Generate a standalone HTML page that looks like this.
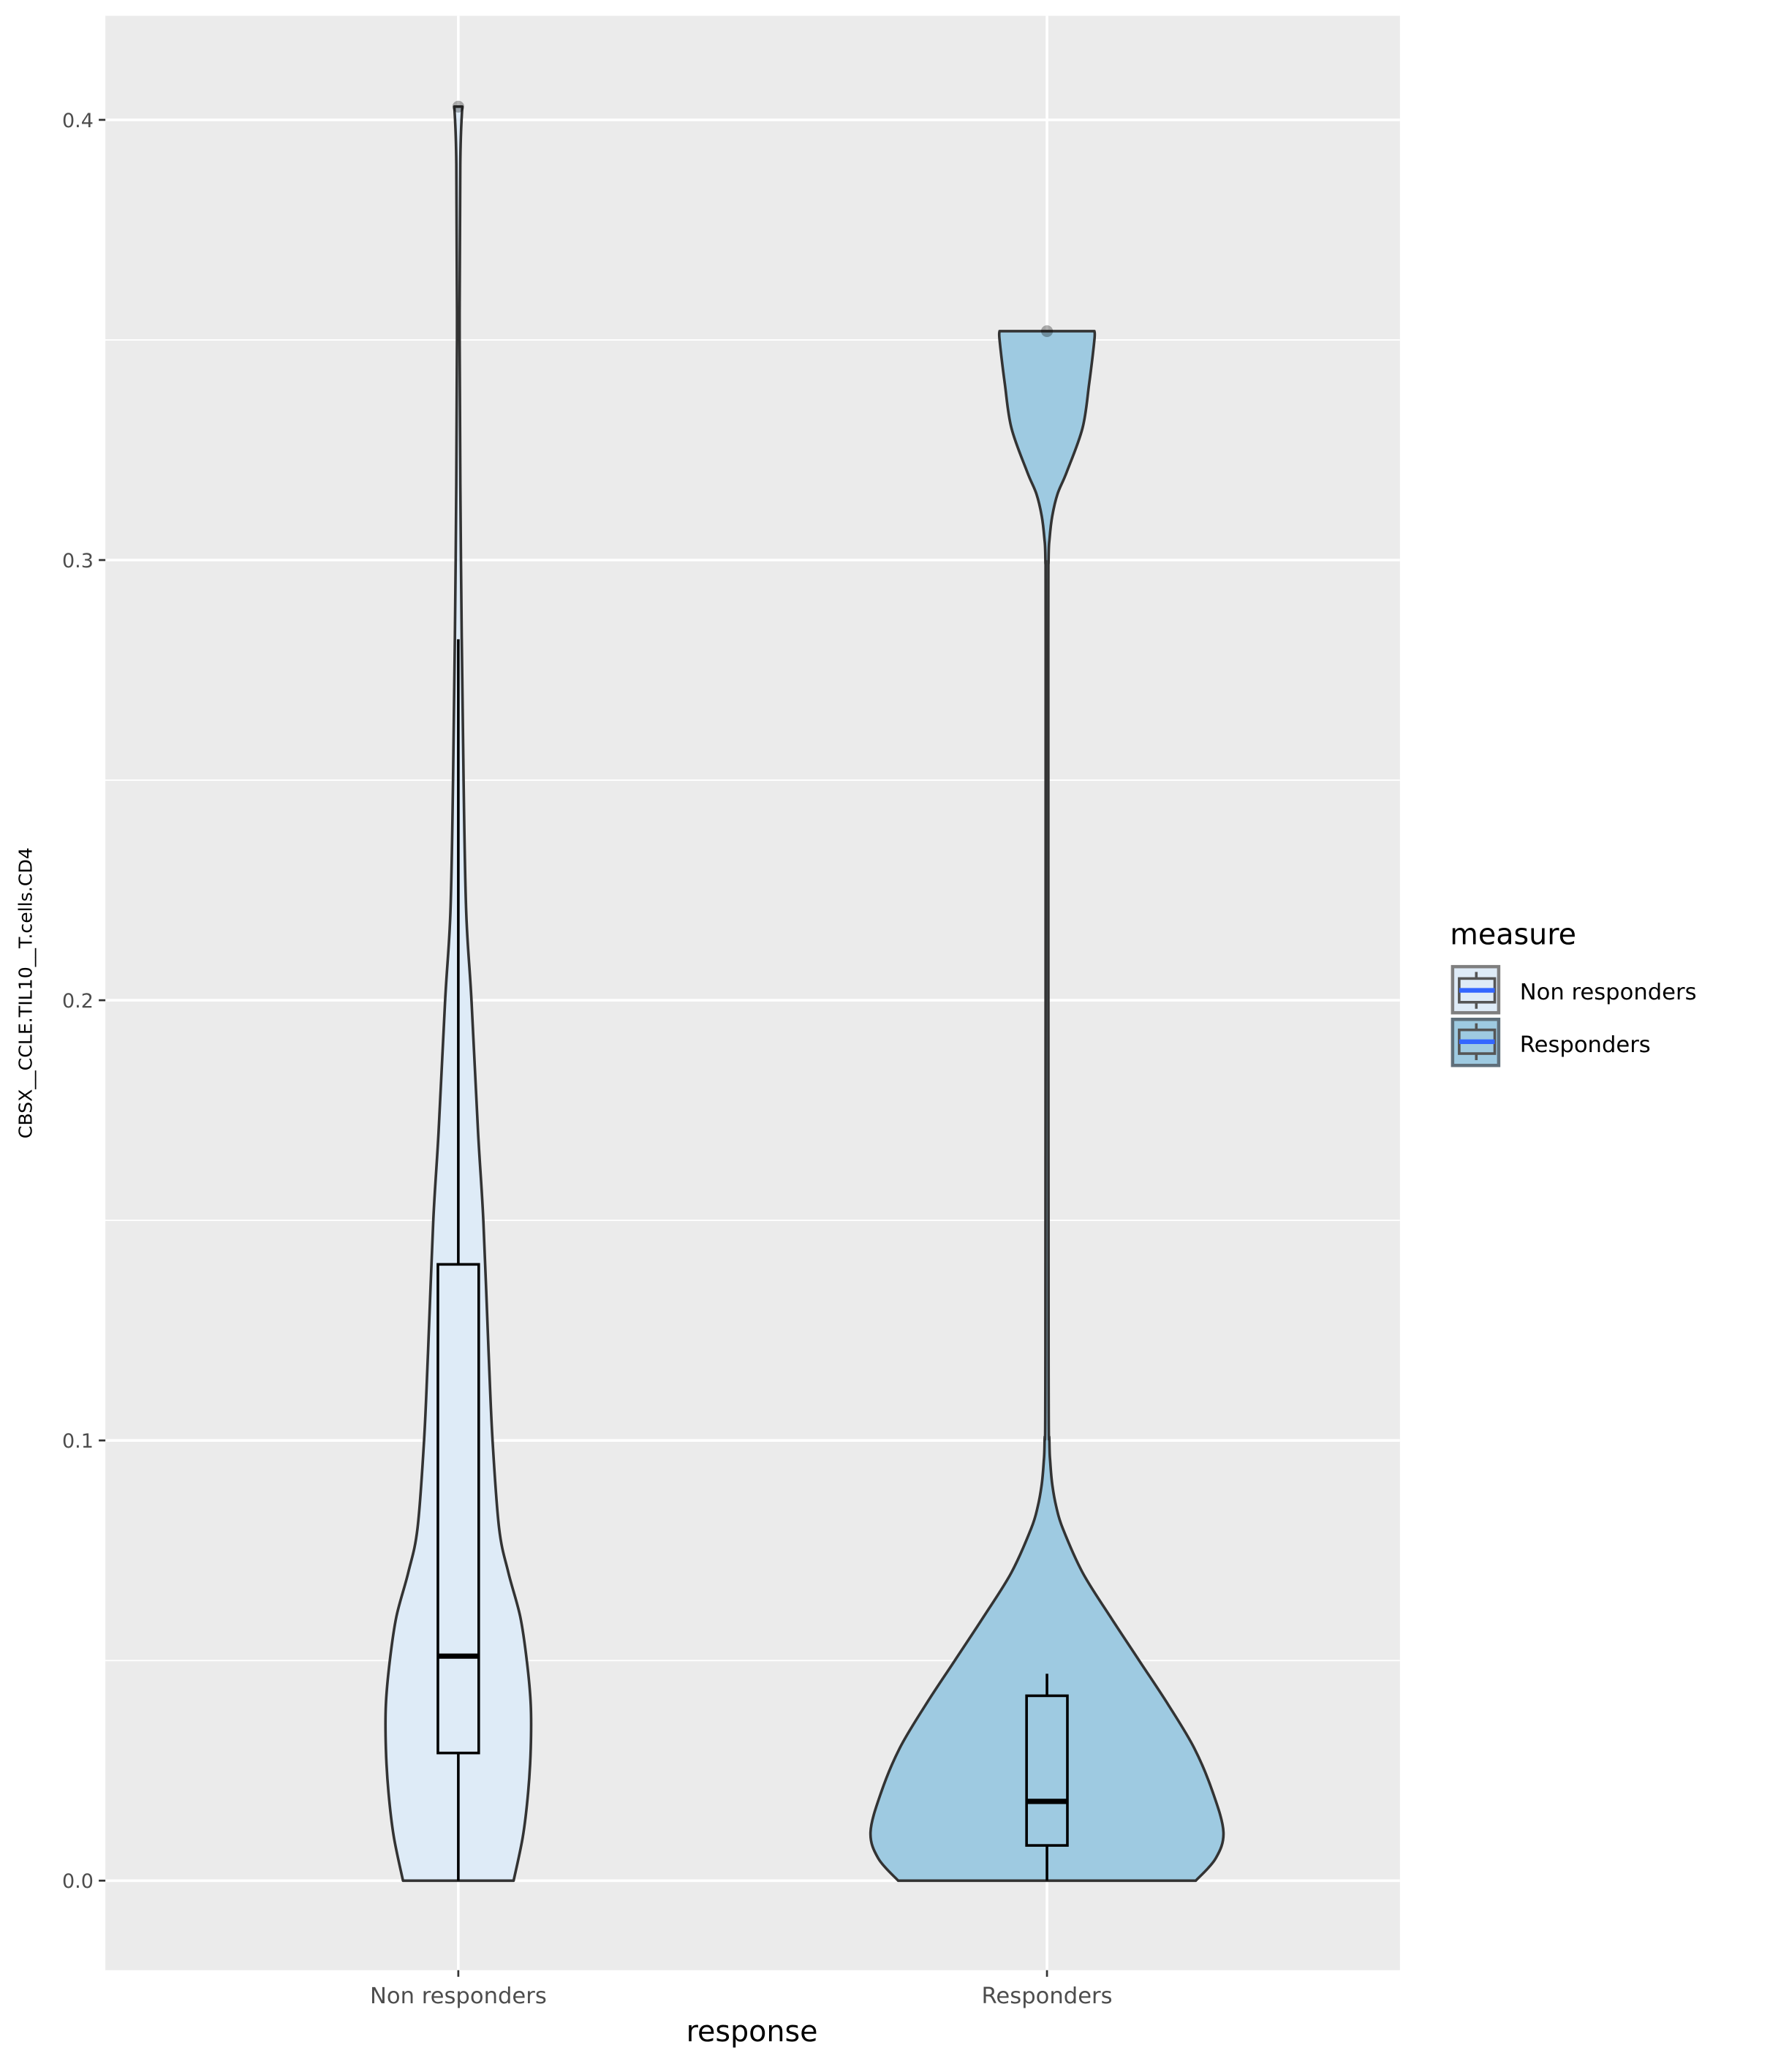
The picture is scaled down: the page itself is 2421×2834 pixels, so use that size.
<!DOCTYPE html>
<html><head><meta charset="utf-8"><style>html,body{margin:0;padding:0;background:#fff}svg{display:block}</style></head>
<body>
<svg id="chart" width="2421" height="2834" viewBox="0 0 1344 1573.3" xmlns="http://www.w3.org/2000/svg" font-family="'DejaVu Sans','Liberation Sans',sans-serif">
<rect x="80" y="12" width="983" height="1484" fill="#ebebeb"/>
<g id="grid"></g>
<g id="marks"></g>
<g id="axes"></g>
<text x="571" y="1550" font-size="22" text-anchor="middle" fill="#000">response</text>
<text transform="translate(24,754) rotate(-90)" font-size="14" text-anchor="middle" fill="#000">CBSX__CCLE.TIL10__T.cells.CD4</text>
<g>
<text x="1101" y="717" font-size="22" fill="#000">measure</text>
<g>
<rect x="1103" y="734" width="35" height="35" fill="#deebf7" stroke="#7f7f7f" stroke-width="2.5"/>
<line x1="1121" y1="738" x2="1121" y2="766" stroke="#555" stroke-width="2"/>
<rect x="1108" y="743" width="27" height="18" fill="#deebf7" stroke="#555" stroke-width="2"/>
<line x1="1108" y1="752" x2="1135" y2="752" stroke="#3366ff" stroke-width="3.5"/>
<text x="1154" y="759" font-size="17" fill="#000">Non responders</text>
</g>
<g>
<rect x="1103" y="774" width="35" height="35" fill="#9ecae1" stroke="#5f6f7a" stroke-width="2.5"/>
<line x1="1121" y1="777" x2="1121" y2="805" stroke="#555" stroke-width="2"/>
<rect x="1108" y="782" width="27" height="18" fill="#9ecae1" stroke="#555" stroke-width="2"/>
<line x1="1108" y1="791" x2="1135" y2="791" stroke="#3366ff" stroke-width="3.5"/>
<text x="1154" y="799" font-size="17" fill="#000">Responders</text>
</g>
</g>
</svg>
<script>
const categories = ["Non responders", "Responders"];
const fills = ["#deebf7", "#9ecae1"];
const yTicks = [0.0, 0.1, 0.2, 0.3, 0.4];
const yTickLabels = ["0.0", "0.1", "0.2", "0.3", "0.4"];
// violin density profiles: y values and relative half-widths
const nrY = [0, 0.01, 0.02, 0.03, 0.04, 0.05, 0.06, 0.07, 0.08, 0.1, 0.12, 0.15, 0.17, 0.2, 0.22, 0.25, 0.3, 0.35, 0.39, 0.403];
const nrW = [42, 49, 53, 55, 55, 52, 47, 38, 31, 26, 23, 19, 15, 10, 6, 4, 2, 1, 1.5, 3];
const rY = [0, 0.005, 0.011, 0.02, 0.03, 0.04, 0.05, 0.06, 0.07, 0.08, 0.085, 0.09, 0.095, 0.1, 0.12, 0.28, 0.3, 0.305, 0.31, 0.315, 0.32, 0.33, 0.34, 0.35, 0.352];
const rW = [113, 128, 134, 126, 112, 92, 70, 48, 27, 12, 7, 4, 2.5, 1.8, 1.2, 1, 1.2, 2, 4, 8, 15, 27, 32, 36, 36];
const boxQ1 = [0.029, 0.008];
const boxMed = [0.051, 0.018];
const boxQ3 = [0.140, 0.042];
const whiskLo = [0, 0];
const whiskHi = [0.282, 0.047];
const outliers = [0.403, 0.352];

const NS = "http://www.w3.org/2000/svg";
function yS(v){ return 1428 - v * 3342.5; }
function xS(i){ return 348 + i * 447; }
function mk(parent, tag, attrs){ const e = document.createElementNS(NS, tag); for (const k in attrs) e.setAttribute(k, attrs[k]); parent.appendChild(e); return e; }
// smooth side of violin; pts = [[w, y], ...], sign = -1 left / +1 right
function side(cx, pts, sign, start){
  let d = start ? 'M' + (cx + sign*pts[0][0]) + ',' + pts[0][1] : 'L' + (cx + sign*pts[0][0]) + ',' + pts[0][1];
  for (let i = 0; i < pts.length - 1; i++) {
    const p0 = pts[Math.max(0, i-1)], p1 = pts[i], p2 = pts[i+1], p3 = pts[Math.min(pts.length-1, i+2)];
    let c1w = p1[0] + (p2[0]-p0[0])/6, c2w = p2[0] - (p3[0]-p1[0])/6;
    const lo = Math.min(p1[0], p2[0]) * 0.6;
    c1w = Math.max(lo, c1w); c2w = Math.max(lo, c2w);
    const c1y = p1[1] + (p2[1]-p0[1])/6, c2y = p2[1] - (p3[1]-p1[1])/6;
    d += 'C' + (cx + sign*c1w) + ',' + c1y + ' ' + (cx + sign*c2w) + ',' + c2y + ' ' + (cx + sign*p2[0]) + ',' + p2[1];
  }
  return d;
}
const grid = document.getElementById('grid'), marks = document.getElementById('marks'), axes = document.getElementById('axes');

for (let i = 0; i < yTicks.length; i++) {
  const y = yS(yTicks[i]);
  const g = mk(grid, 'line', {x1:80, x2:1063, y1:y, y2:y, stroke:'#fff', 'stroke-width':2});
  
  
  if (i < yTicks.length - 1) {
    const ym = yS((yTicks[i] + yTicks[i+1]) / 2);
    const m = mk(grid, 'line', {x1:80, x2:1063, y1:ym, y2:ym, stroke:'#fff', 'stroke-width':1});
    
    
  }
  mk(axes, 'line', {x1:75, x2:80, y1:y, y2:y, stroke:'#333', 'stroke-width':1.5});
  const t = mk(axes, 'text', {x:71, y:y + 5.5, 'font-size':15, 'text-anchor':'end', fill:'#4d4d4d'});
  t.textContent = yTickLabels[i];
  
  
}
for (let i = 0; i < categories.length; i++) {
  const x = xS(i);
  const g = mk(grid, 'line', {x1:x, x2:x, y1:12, y2:1496, stroke:'#fff', 'stroke-width':2});
  
  
  mk(axes, 'line', {x1:x, x2:x, y1:1496, y2:1501, stroke:'#333', 'stroke-width':1.5});
  const t = mk(axes, 'text', {x:x, y:1521, 'font-size':17, 'text-anchor':'middle', fill:'#4d4d4d'});
  t.textContent = categories[i];
  
  
}
const profiles = [[nrY, nrW], [rY, rW]];
for (let i = 0; i < categories.length; i++) {
  const x = xS(i), ys = profiles[i][0], ws = profiles[i][1];
  const up = [];
  for (let k = 0; k < ys.length; k++) up.push([ws[k], yS(ys[k])]);
  const down = up.slice().reverse();
  const d = side(x, up, -1, true) + side(x, down, 1, false) + 'Z';
  const v = mk(marks, 'path', {d:d, fill:fills[i], stroke:'#333', 'stroke-width':2, 'stroke-linejoin':'round'});
  
  
  const wl = mk(marks, 'line', {x1:x, x2:x, y1:yS(whiskLo[i]), y2:yS(boxQ1[i]), stroke:'#000', 'stroke-width':2});
  
  
  const wh = mk(marks, 'line', {x1:x, x2:x, y1:yS(boxQ3[i]), y2:yS(whiskHi[i]), stroke:'#000', 'stroke-width':2});
  
  
  const b = mk(marks, 'rect', {x:x - 15.5, y:yS(boxQ3[i]), width:31, height:yS(boxQ1[i]) - yS(boxQ3[i]), fill:'none', stroke:'#000', 'stroke-width':2});
  
  
  const md = mk(marks, 'line', {x1:x - 15.5, x2:x + 15.5, y1:yS(boxMed[i]), y2:yS(boxMed[i]), stroke:'#000', 'stroke-width':4});
  
  
  const o = mk(marks, 'circle', {cx:x, cy:yS(outliers[i]), r:4.5, fill:'#000', 'fill-opacity':0.3});
  
  
}
</script>
</body></html>
